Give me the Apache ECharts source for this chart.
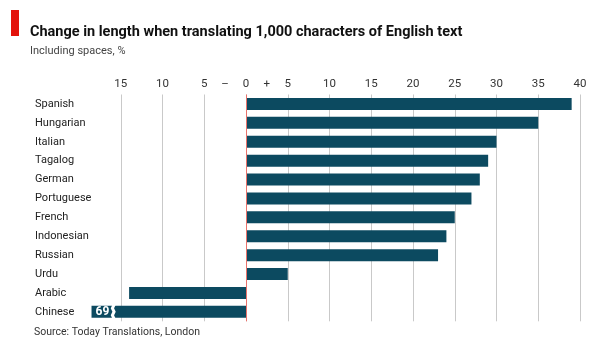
<!DOCTYPE html>
<html>
<head>
<meta charset="utf-8">
<script src="https://cdn.jsdelivr.net/npm/echarts@6/dist/echarts.min.js"></script>
<style>
  html, body { margin: 0; padding: 0; background: #fff; }
  #main { width: 609px; height: 352px; }
</style>
</head>
<body>
<div id="main"></div>
<script>
// 数据
var languages = ['Spanish', 'Hungarian', 'Italian', 'Tagalog', 'German', 'Portuguese',
  'French', 'Indonesian', 'Russian', 'Urdu', 'Arabic', 'Chinese'];
var changes = [39, 35, 30, 29, 28, 27, 25, 24, 23, 5, -14, -69];
var axisMin = -20, axisMax = 40;
var breakAt = -18.5; // 超出范围的条形在这里截断

var FONT = 'Roboto, sans-serif';
var BAR = '#0c4a60';

// 截断后的数据
var barData = changes.map(function (v) {
  if (v < breakAt) {
    return {
      value: breakAt,
      label: { show: true, formatter: String(Math.abs(v)) }
    };
  }
  return v;
});
var breakIndex = changes.findIndex(function (v) { return v < breakAt; });

var myChart = echarts.init(document.getElementById('main'));

var option = {
  backgroundColor: '#fff',
  animation: false,
  graphic: [
    { type: 'rect', left: 11, top: 10, shape: { width: 8, height: 26 }, style: { fill: '#e3120b' } },
    { type: 'text', left: 30, top: 25, style: { text: 'Change in length when translating 1,000 characters of English text',
      font: 'bold 14.5px ' + FONT, fill: '#111' } },
    { type: 'text', left: 30, top: 46, style: { text: 'Including spaces, %',
      font: '11px ' + FONT, fill: '#444' } },
    { type: 'text', left: 34, top: 327, style: { text: 'Source: Today Translations, London',
      font: '10.5px ' + FONT, fill: '#333' } }
  ],
  grid: {
    left: 79,
    right: 29,
    top: 94.5,
    height: 226.8
  },
  xAxis: [{
    type: 'value',
    position: 'top',
    min: axisMin,
    max: axisMax,
    interval: 5,
    axisLine: { show: false },
    axisTick: { show: false },
    axisLabel: {
      margin: 4,
      fontFamily: FONT,
      fontSize: 11.5,
      color: '#333',
      formatter: function (v) { return v === axisMin ? '' : String(Math.abs(v)); }
    },
    splitLine: {
      show: true,
      showMinLine: false,
      lineStyle: { color: '#c9c9c9', width: 1 }
    }
  }, {
    // 正负号标签
    type: 'value',
    position: 'top',
    min: axisMin,
    max: axisMax,
    interval: 2.5,
    axisLine: { show: false },
    axisTick: { show: false },
    splitLine: { show: false },
    axisLabel: {
      margin: 4,
      fontFamily: FONT,
      fontSize: 11.5,
      color: '#333',
      formatter: function (v) { return v === -2.5 ? '–' : (v === 2.5 ? '+' : ''); }
    }
  }],
  yAxis: {
    type: 'category',
    data: languages,
    inverse: true,
    axisLine: { show: false, onZero: false },
    axisTick: { show: false },
    axisLabel: {
      align: 'left',
      margin: 44,
      fontFamily: FONT,
      fontSize: 11,
      color: '#222'
    }
  },
  series: [{
    type: 'bar',
    data: barData,
    barWidth: 12,
    itemStyle: { color: BAR },
    label: {
      show: false,
      position: 'insideLeft',
      distance: 4,
      color: '#fff',
      fontFamily: FONT,
      fontWeight: 'bold',
      fontSize: 12
    },
    markLine: {
      silent: true,
      symbol: 'none',
      label: { show: false },
      lineStyle: { color: '#e8736c', type: 'solid', width: 1 },
      data: [{ xAxis: 0 }]
    },
    markPoint: {
      silent: true,
      symbol: 'path://M2,0 L6,0 L4,3 L6,6 L4,9 L6,12 L2,12 L0,9 L2,6 L0,3 Z',
      symbolSize: [5, 14],
      itemStyle: { color: '#fff' },
      label: { show: false },
      data: breakIndex >= 0 ? [{ coord: [-15.9, languages[breakIndex]] }] : []
    },
    z: 3
  }]
};

myChart.setOption(option);
</script>
</body>
</html>
